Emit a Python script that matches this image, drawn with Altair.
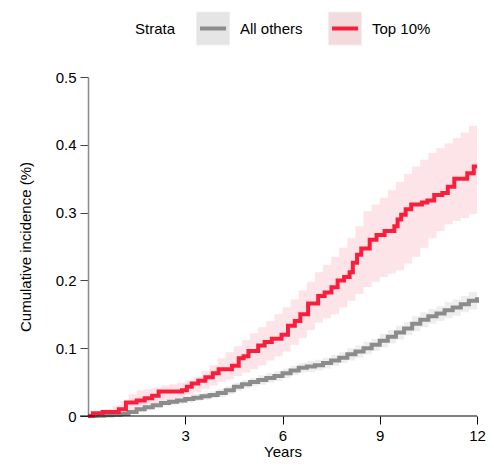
import altair as alt
import pandas as pd

# ---------------- data ----------------
strata = ["All others", "Top 10%"]
line_colors = ["#8c8c8c", "#fa1e3c"]
band_colors = ["#eeeeee", "#fde4e8"]
box_colors = ["#e5e5e5", "#f2dadd"]

red_t = [0, 0.15, 0.45, 0.95, 1.17, 1.5, 1.75, 1.98, 2.18, 2.9, 3.05, 3.2, 3.4, 3.62, 3.85,
         4.03, 4.44, 4.65, 4.8, 4.95, 5.25, 5.45, 5.67, 5.97, 6.17, 6.38, 6.55, 6.79, 7.1,
         7.3, 7.51, 7.7, 7.9, 8.07, 8.17, 8.3, 8.43, 8.69, 8.9, 9.15, 9.45, 9.55, 9.66, 9.8,
         9.97, 10.3, 10.47, 10.68, 10.93, 11.1, 11.3, 11.7, 11.9, 12]
red_v = [0, 0.004, 0.006, 0.010, 0.020, 0.023, 0.026, 0.030, 0.036, 0.038, 0.043, 0.048,
         0.052, 0.057, 0.063, 0.069, 0.074, 0.085, 0.088, 0.096, 0.104, 0.109, 0.114, 0.120,
         0.133, 0.140, 0.150, 0.166, 0.177, 0.182, 0.190, 0.200, 0.205, 0.212, 0.226, 0.238,
         0.247, 0.260, 0.267, 0.273, 0.280, 0.290, 0.297, 0.305, 0.312, 0.315, 0.318, 0.326,
         0.329, 0.338, 0.350, 0.358, 0.368, 0.368]

ci_t = [0, 0.25, 0.5, 0.75, 1, 1.25, 1.5, 1.75, 2, 2.25, 2.5, 2.75, 3, 3.25, 3.5, 3.75, 4,
        4.25, 4.5, 4.75, 5, 5.25, 5.5, 5.75, 6, 6.25, 6.5, 6.75, 7, 7.25, 7.5, 7.75, 8,
        8.25, 8.5, 8.75, 9, 9.25, 9.5, 9.75, 10, 10.25, 10.5, 10.75, 11, 11.25, 11.5,
        11.75, 12]
red_hi = [0.003, 0.006, 0.010, 0.015, 0.022, 0.032, 0.038, 0.040, 0.042, 0.045, 0.047,
          0.049, 0.052, 0.058, 0.066, 0.075, 0.085, 0.094, 0.103, 0.112, 0.122, 0.131,
          0.140, 0.150, 0.160, 0.172, 0.185, 0.198, 0.212, 0.223, 0.235, 0.248, 0.262,
          0.280, 0.302, 0.312, 0.322, 0.333, 0.345, 0.357, 0.368, 0.378, 0.388, 0.395,
          0.402, 0.410, 0.418, 0.428, 0.435]
red_lo = [0, 0, 0.001, 0.003, 0.004, 0.007, 0.010, 0.013, 0.017, 0.020, 0.024, 0.027,
          0.031, 0.035, 0.040, 0.045, 0.050, 0.054, 0.059, 0.064, 0.069, 0.075, 0.082,
          0.088, 0.095, 0.105, 0.115, 0.127, 0.138, 0.144, 0.150, 0.160, 0.170, 0.180,
          0.190, 0.198, 0.205, 0.210, 0.215, 0.225, 0.235, 0.248, 0.262, 0.273, 0.283,
          0.288, 0.292, 0.298, 0.302]

gray_v = [0, 0.0005, 0.001, 0.002, 0.003, 0.006, 0.010, 0.013, 0.016, 0.019, 0.021, 0.023,
          0.025, 0.027, 0.029, 0.031, 0.034, 0.038, 0.043, 0.047, 0.050, 0.053, 0.056,
          0.059, 0.063, 0.067, 0.071, 0.073, 0.075, 0.078, 0.082, 0.086, 0.091, 0.095,
          0.100, 0.105, 0.111, 0.117, 0.123, 0.129, 0.136, 0.142, 0.147, 0.151, 0.156,
          0.160, 0.165, 0.170, 0.175]
gray_hi = [0, 0.0015, 0.002, 0.004, 0.006, 0.009, 0.014, 0.017, 0.020, 0.023, 0.026, 0.028,
           0.030, 0.032, 0.034, 0.036, 0.040, 0.044, 0.049, 0.053, 0.056, 0.060, 0.063,
           0.066, 0.070, 0.074, 0.078, 0.081, 0.083, 0.086, 0.090, 0.094, 0.100, 0.104,
           0.109, 0.114, 0.121, 0.127, 0.133, 0.139, 0.147, 0.153, 0.158, 0.162, 0.168,
           0.172, 0.177, 0.183, 0.188]
gray_lo = [0, 0, 0, 0, 0, 0.003, 0.006, 0.009, 0.012, 0.015, 0.016, 0.018, 0.020, 0.022,
           0.024, 0.026, 0.028, 0.032, 0.037, 0.041, 0.044, 0.046, 0.049, 0.052, 0.056,
           0.060, 0.064, 0.065, 0.067, 0.070, 0.074, 0.078, 0.082, 0.086, 0.091, 0.096,
           0.101, 0.107, 0.113, 0.119, 0.125, 0.131, 0.136, 0.140, 0.144, 0.148, 0.153,
           0.157, 0.162]

x_ticks = [3, 6, 9, 12]
y_ticks = [0, 0.1, 0.2, 0.3, 0.4, 0.5]

FONT = "Liberation Sans"

lines_df = pd.concat([
    pd.DataFrame({"t": ci_t, "v": gray_v, "stratum": strata[0]}),
    pd.DataFrame({"t": red_t, "v": red_v, "stratum": strata[1]}),
])
bands_df = pd.concat([
    pd.DataFrame({"t": ci_t, "lo": gray_lo, "hi": gray_hi, "stratum": strata[0]}),
    pd.DataFrame({"t": ci_t, "lo": red_lo, "hi": red_hi, "stratum": strata[1]}),
])

xscale = alt.Scale(domain=[0, 12], nice=False)
yscale = alt.Scale(domain=[0, 0.5], nice=False)

xaxis = alt.Axis(values=x_ticks, title="Years", grid=False, domain=False,
                 tickColor="black", tickSize=8, tickWidth=1,
                 labelFontSize=15, labelColor="black", labelFont=FONT, labelPadding=4,
                 titleFontSize=15, titleFontWeight="normal", titleColor="black",
                 titleFont=FONT, titlePadding=1, labelFlush=False)
yaxis = alt.Axis(values=y_ticks, title="Cumulative incidence (%)", grid=False,
                 domainColor="#888888", domainWidth=1.5, tickColor="#444444",
                 tickSize=8, tickWidth=1, labelFontSize=15, labelColor="black",
                 labelFont=FONT, labelPadding=4,
                 labelExpr="datum.value == 0 ? '0' : format(datum.value, '.1f')",
                 titleFontSize=15, titleFontWeight="normal", titleColor="black",
                 titleFont=FONT, titlePadding=22)

fill_scale = alt.Scale(domain=strata, range=band_colors)
stroke_scale = alt.Scale(domain=strata, range=line_colors)

bands = alt.Chart(bands_df).mark_area(interpolate="step-after", opacity=1).encode(
    x=alt.X("t:Q", scale=xscale, axis=xaxis),
    y=alt.Y("lo:Q", scale=yscale, axis=yaxis),
    y2="hi:Q",
    fill=alt.Fill("stratum:N", scale=fill_scale, legend=None),
    order=alt.Order("stratum:N"),
)

lines = alt.Chart(lines_df).mark_line(interpolate="step-after", strokeWidth=4,
                                      strokeCap="butt").encode(
    x=alt.X("t:Q", scale=xscale),
    y=alt.Y("v:Q", scale=yscale),
    stroke=alt.Stroke("stratum:N", scale=stroke_scale, legend=None),
)

xline = alt.Chart(pd.DataFrame({"a": [0]})).mark_rule(color="black", strokeWidth=1).encode(
    x=alt.value(-8), x2=alt.value("width"), y=alt.value("height")
)

main = alt.layer(bands, lines, xline)

# ---------------- legend (drawn above the plot area) ----------------
LEG_Y = -48.5
leg_df = pd.DataFrame({"stratum": strata})
leg_x = alt.X("stratum:N",
              scale=alt.Scale(type="point", domain=strata, range=[125, 257], padding=0),
              axis=None)

leg_box = alt.Chart(leg_df).mark_square(size=33 * 33, opacity=1, filled=True,
                                        stroke="#efefef", strokeWidth=1).encode(
    x=leg_x, y=alt.value(LEG_Y),
    fill=alt.Fill("stratum:N", scale=alt.Scale(domain=strata, range=box_colors),
                  legend=None),
)
leg_line = alt.Chart(leg_df).mark_point(shape="stroke", size=26 * 26, strokeWidth=4,
                                        filled=False, opacity=1).encode(
    x=leg_x, y=alt.value(LEG_Y),
    stroke=alt.Stroke("stratum:N", scale=alt.Scale(domain=strata, range=line_colors),
                      legend=None),
)
leg_text = alt.Chart(leg_df).mark_text(align="left", baseline="middle", dx=27,
                                       fontSize=15, font=FONT, color="black").encode(
    x=leg_x, y=alt.value(LEG_Y), text="stratum:N",
)
leg_title = alt.Chart(pd.DataFrame({"title": ["Strata"]})).mark_text(
    align="right", baseline="middle", fontSize=15, font=FONT, color="black").encode(
    x=alt.value(87), y=alt.value(LEG_Y), text="title:N",
)

legend = alt.layer(leg_box, leg_line, leg_text, leg_title)

chart = alt.layer(main, legend).resolve_scale(
    fill="independent", stroke="independent", x="independent"
).properties(
    width=478, height=451,
    autosize=alt.AutoSizeParams(type="fit", contains="padding"),
    padding={"left": 10, "top": 2, "right": 0, "bottom": 0},
).configure_view(strokeWidth=0)

chart.save("out.html", embed_options={"renderer": "svg", "actions": False})
